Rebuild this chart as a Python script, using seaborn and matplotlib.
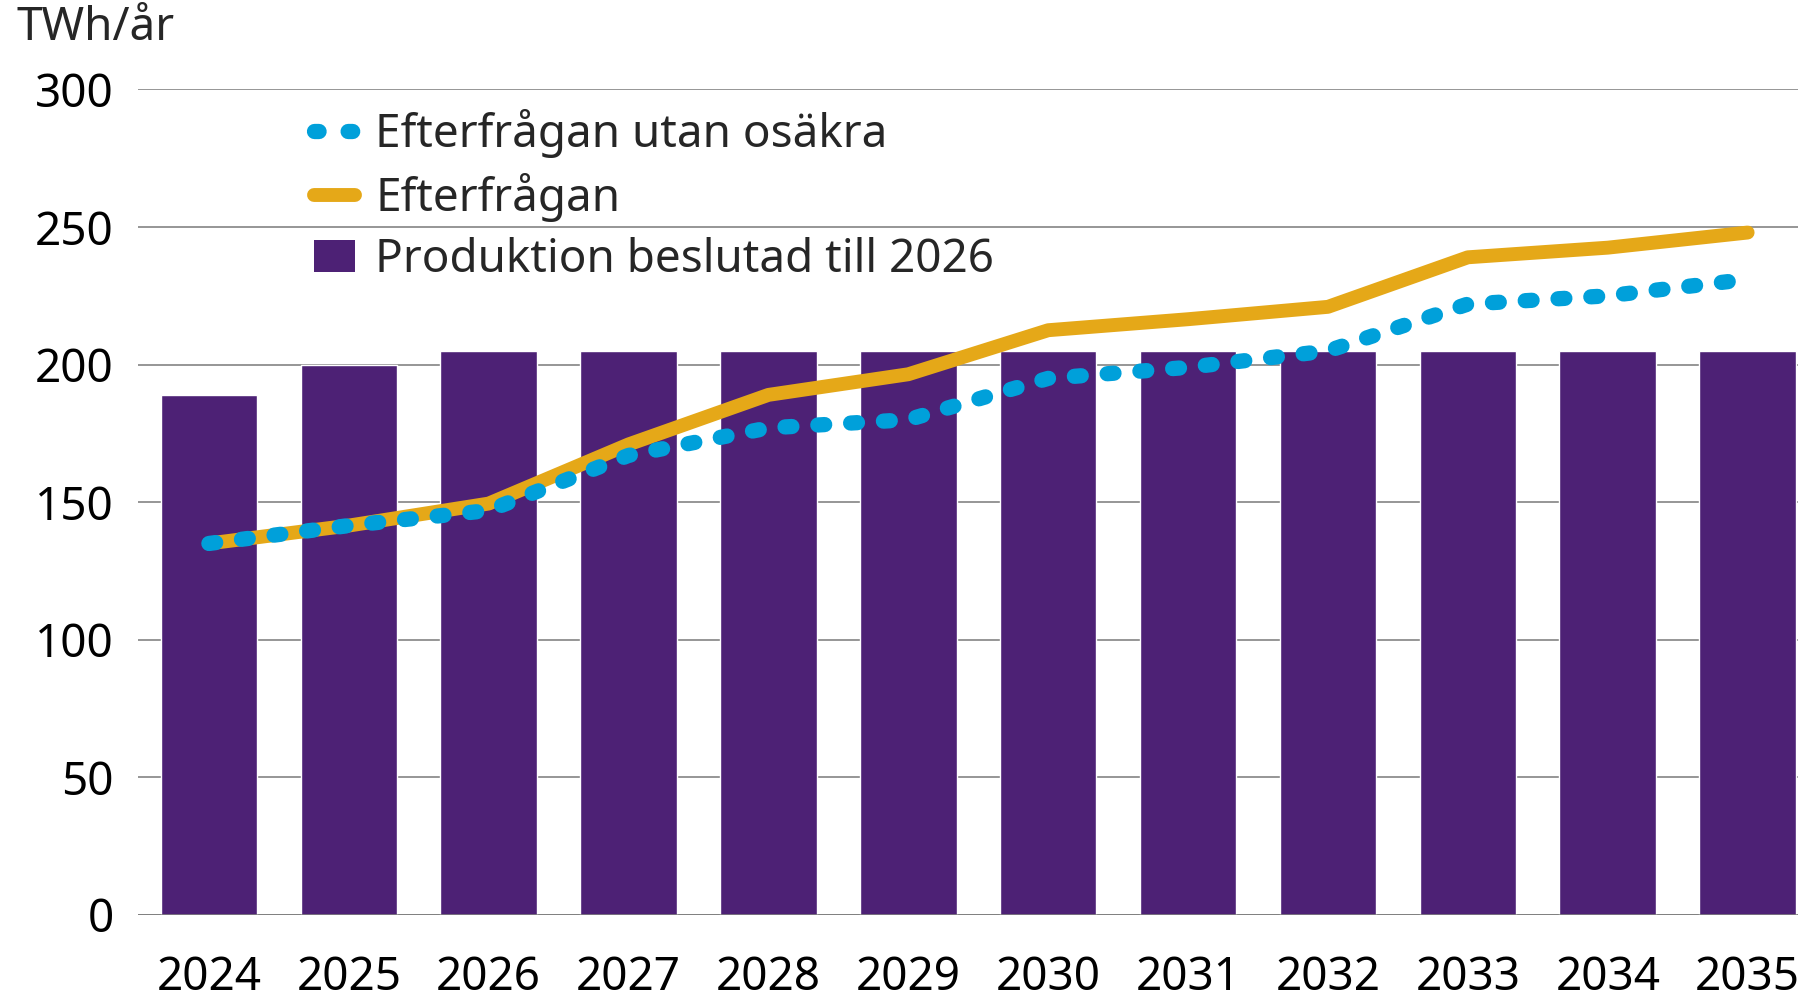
import numpy as np
import pandas as pd
import matplotlib
matplotlib.use("Agg")
import matplotlib.pyplot as plt
import seaborn as sns
from matplotlib.lines import Line2D
from matplotlib.patches import Patch

# Data (TWh/år)
years = ["2024", "2025", "2026", "2027", "2028", "2029",
         "2030", "2031", "2032", "2033", "2034", "2035"]
produktion = [189, 200, 205, 205, 205, 205, 205, 205, 205, 205, 205, 205]
efterfragan = [135, 141.5, 149.5, 171, 189, 196.5, 212.5, 216.5, 221, 239, 242.5, 248]
utan_osakra = [135, 141.5, 147, 167, 177, 180, 195, 199, 205, 222, 225, 231]

purple = "#4D2175"
orange = "#E5A818"
blue = "#00A0DA"
grid_col = "#8E8E8E"

sns.set_theme(style="white")
plt.rcParams['font.family'] = ['Noto Sans', 'DejaVu Sans']

df = pd.DataFrame({"year": years, "prod": produktion,
                   "eft": efterfragan, "utan": utan_osakra})
df["pos"] = np.arange(len(years))

fig = plt.figure(figsize=(17.98, 10.05), dpi=100)
ax = fig.add_axes([0.0765, 0.0896, 0.9235, 0.8214])

sns.barplot(data=df, x="year", y="prod", color=purple, width=0.69,
            saturation=1, ax=ax, zorder=2)
sns.lineplot(data=df, x="pos", y="eft", color=orange, linewidth=10,
             solid_capstyle="round", solid_joinstyle="round", ax=ax, zorder=3)
sns.lineplot(data=df, x="pos", y="utan", color=blue, linewidth=11,
             ax=ax, zorder=4)
ax.lines[-1].set_dashes((0.45, 1.7))
ax.lines[-1].set_dash_capstyle("round")

ax.set_xlim(-0.51, 11.36)
ax.set_ylim(0, 300)
ax.set_yticks(range(0, 301, 50))
ax.yaxis.grid(True, color=grid_col, linewidth=1.3, zorder=0)
ax.set_axisbelow(True)
for s in ax.spines.values():
    s.set_visible(False)
ax.axhline(0, color="#7A7A7A", linewidth=1.8, zorder=5)
ax.set_xlabel("")
ax.set_ylabel("")
ax.tick_params(axis="y", length=0, pad=17, labelsize=33, labelcolor="black")
ax.tick_params(axis="x", length=0, pad=29, labelsize=33, labelcolor="black")

fig.text(0.009, 0.972, "TWh/år", fontsize=33, ha="left", va="center")

handles = [
    Line2D([0], [0], color=blue, linewidth=11, dashes=(0.3, 1.9),
           dash_capstyle="round"),
    Line2D([0], [0], color=orange, linewidth=10, solid_capstyle="round"),
    Patch(facecolor=purple, edgecolor="none"),
]
labels = ["Efterfrågan utan osäkra", "Efterfrågan", "Produktion beslutad till 2026"]
ax.legend(handles, labels, loc="upper left", bbox_to_anchor=(0.095, 0.998),
          frameon=False, fontsize=33, handlelength=0.9, handletextpad=0.45,
          labelspacing=0.32, borderaxespad=0)

fig.savefig("out.png", dpi=100)
